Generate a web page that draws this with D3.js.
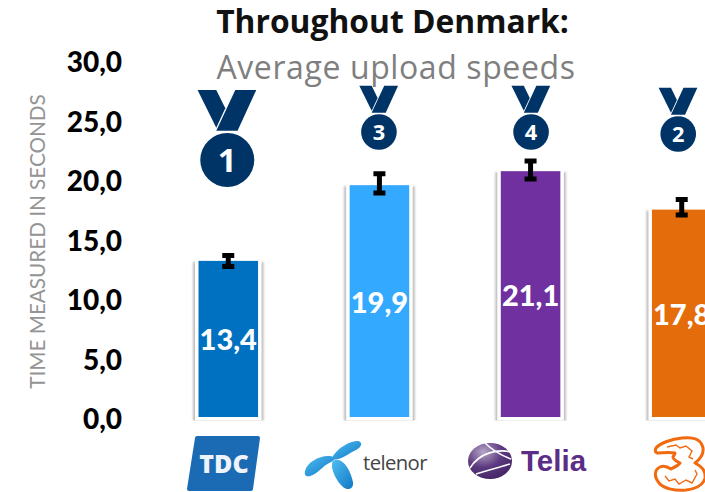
<!DOCTYPE html>
<html><head><meta charset="utf-8">
<script src="https://cdn.jsdelivr.net/npm/d3@7"></script>
<style>html,body{margin:0;padding:0;background:#fff;overflow:hidden}svg{display:block}</style>
</head><body><div id="c"></div>
<script>
const categories = ["TDC","Telenor","Telia","3"];
const values = [13.4,19.9,21.1,17.8];
const errLow = [12.8,19.1,20.3,17.2];
const errHigh = [14.0,21.0,22.1,18.8];
const ranks = [1,3,4,2];
const barColors = ["#0070C0","#33A9FF","#7030A0","#E46C0A"];
const yTicks = [0,5,10,15,20,25,30];
const titleText = "Throughout Denmark:";
const subtitleText = "Average upload speeds";
const yTitle = "TIME MEASURED IN SECONDS";

const W=705,H=492;
const svg=d3.select("#c").append("svg").attr("width",W).attr("height",H);
const defs=svg.append("defs");
const f=defs.append("filter").attr("id","blur").attr("x","-30%").attr("y","-30%").attr("width","160%").attr("height","160%");
f.append("feGaussianBlur").attr("stdDeviation",1.3);
defs.append("clipPath").attr("id","plotclip").append("rect").attr("x",0).attr("y",0).attr("width",W).attr("height",420.5);
const gr=defs.append("radialGradient").attr("id","telia").attr("cx","35%").attr("cy","25%").attr("r","85%");
gr.append("stop").attr("offset","0%").attr("stop-color","#b5a6c6");
gr.append("stop").attr("offset","50%").attr("stop-color","#5d3a80");
gr.append("stop").attr("offset","100%").attr("stop-color","#3f2160");
const gb=defs.append("linearGradient").attr("id","tel").attr("x1",0).attr("y1",0).attr("x2",1).attr("y2",1);
gb.append("stop").attr("offset","0%").attr("stop-color","#4fbdf0");
gb.append("stop").attr("offset","100%").attr("stop-color","#1178c8");

const x=d3.scaleBand().domain(categories).range([198.5,711.5]).paddingInner(0.606).paddingOuter(0);
const y=d3.scaleLinear().domain([0,30]).range([417,67.5]);
const yLabel=d3.scaleLinear().domain([0,30]).range([419.5,63]);
const comma=d3.formatLocale({decimal:",",thousands:".",grouping:[3],currency:["",""]}).format(".1f");

// title
svg.append("text").attr("x",392.5).attr("y",33).attr("text-anchor","middle")
  .attr("font-family","Open Sans").attr("font-weight",700).attr("font-size",31.8).attr("fill","#111").text(titleText);
svg.append("text").attr("x",396).attr("y",79).attr("text-anchor","middle")
  .attr("font-family","Open Sans").attr("font-size",32).attr("letter-spacing",0.6).attr("fill","#7f7f7f").text(subtitleText);

// y axis
const ax=svg.append("g").attr("transform","translate(122,0)")
  .call(d3.axisLeft(yLabel).tickValues(yTicks).tickFormat(comma).tickSize(0).tickPadding(0));
ax.select(".domain").remove();
ax.selectAll("text").attr("font-family","Lato").attr("font-weight",900).attr("font-size",28).attr("fill","#000");
svg.append("text").attr("transform","translate(45,241.5) rotate(-90)").attr("text-anchor","middle")
  .attr("font-family","Lato").attr("font-size",20.7).attr("fill","#949494").text(yTitle);

// bars
const plot=svg.append("g");
const halos=plot.append("g").attr("clip-path","url(#plotclip)");
halos.selectAll("rect.shadow").data(categories).join("rect").attr("class","shadow")
  .attr("x",d=>x(d)-5.5).attr("width",x.bandwidth()+11)
  .attr("y",(d,i)=>y(values[i])+1).attr("height",(d,i)=>y(0)-y(values[i])+12)
  .attr("fill","#bdbdbd").attr("filter","url(#blur)");
halos.selectAll("rect.halo").data(categories).join("rect").attr("class","halo")
  .attr("x",d=>x(d)-3.5).attr("width",x.bandwidth()+7)
  .attr("y",(d,i)=>y(values[i])-4).attr("height",(d,i)=>y(0)-y(values[i])+12)
  .attr("fill","#fff");
plot.append("g").selectAll("rect").data(categories).join("rect")
  .attr("x",d=>x(d)).attr("width",x.bandwidth())
  .attr("y",(d,i)=>y(values[i])).attr("height",(d,i)=>y(0)-y(values[i]))
  .attr("fill",(d,i)=>barColors[i]);
// error bars
const eb=plot.append("g").attr("stroke","#000").attr("fill","none");
categories.forEach((c,i)=>{
  const cx=x(c)+x.bandwidth()/2;
  const a=y(errHigh[i]), b=y(errLow[i]);
  eb.append("path").attr("stroke-width",5).attr("d",`M${cx},${a}V${b}`);
  eb.append("path").attr("stroke-width",5).attr("d",`M${cx-6},${a+1.5}H${cx+6}M${cx-6},${b-1.5}H${cx+6}`);
});
// value labels
plot.append("g").selectAll("text").data(categories).join("text")
  .attr("x",d=>x(d)+x.bandwidth()/2).attr("y",(d,i)=>(y(values[i])+y(0))/2+1)
  .attr("dy","0.36em").attr("text-anchor","middle")
  .attr("font-family","Lato").attr("font-weight",900).attr("font-size",29).attr("fill","#fff")
  .text((d,i)=>comma(values[i]));

// medals
const medalLayout=[{dx:-1,cy:160,s:1},{dx:-0.5,cy:132,s:.66},{dx:0.5,cy:132,s:.66},{dx:-3.5,cy:134,s:.66}];
const navy="#003366";
categories.forEach((c,i)=>{
  const m=medalLayout[i];
  const g=svg.append("g").attr("transform",`translate(${x(c)+x.bandwidth()/2+m.dx},${m.cy}) scale(${m.s})`);
  g.append("path").attr("fill",navy).attr("d","M-29.7,-70L-11,-70L-2,-51.7L-11,-32.3Z");
  g.append("path").attr("fill",navy).attr("d","M8,-70L29,-70L10.3,-29.3L-11,-29.3Z");
  g.append("circle").attr("r",27).attr("fill",navy);
  g.append("text").attr("text-anchor","middle").attr("dy","0.36em").attr("font-family","Open Sans").attr("font-weight",700)
   .attr("font-size",33).attr("fill","#fff").text(ranks[i]);
});

// logos
const tdc=svg.append("g");
tdc.append("path").attr("fill","#1a6bb4").attr("stroke","#1a6bb4").attr("stroke-width",4).attr("stroke-linejoin","round")
  .attr("d","M197,438L258,438L251,489L189,489Z");
tdc.append("text").attr("x",224).attr("y",473).attr("text-anchor","middle").attr("font-family","Open Sans").attr("font-weight",800)
  .attr("font-size",25).attr("fill","#eef4fa").text("TDC");

const tel=svg.append("g").attr("fill","url(#tel)");
tel.append("path").attr("d","M305,471C307,462 320,455 330,456C336,457 336,460 331,462C322,466 318,474 310,476C306,477 304,475 305,471Z");
tel.append("path").attr("d","M333,456C339,447 350,441 358,441C363,442 362,447 356,450C349,453 344,458 338,459C334,460 331,459 333,456Z");
tel.append("path").attr("d","M335,460C344,458 351,472 353,482C354,489 348,491 343,487C337,482 331,470 332,464C332,462 333,461 335,460Z");
svg.append("text").attr("x",363).attr("y",470).attr("font-family","Open Sans").attr("font-size",20.3).attr("letter-spacing",-0.6).attr("fill","#444").text("telenor");

const telia=svg.append("g");
telia.append("ellipse").attr("cx",490).attr("cy",461).attr("rx",22).attr("ry",18).attr("fill","url(#telia)");
telia.append("path").attr("fill","none").attr("stroke","#fff").attr("stroke-width",1.6)
  .attr("d","M470,468C480,452 498,449 511,452M476,474C490,470 504,466 510,464M485,443C492,450 503,456 511,459");
svg.append("text").attr("x",521).attr("y",471).attr("font-family","Liberation Sans").attr("font-weight",700).attr("font-size",29.5).attr("fill","#5c2d86").text("Telia");

const three="M656,448C660,443 672,439 682,438C692,437 701,438 703,448C704,455 699,460 695,463C701,466 706,471 705,478C703,486 694,489 686,490C676,491 664,489 659,483C654,477 654,470 660,467C664,465 668,467 671,469C675,467 679,465 680,463C676,461 673,459 673,457C674,455 675,454 675,453C670,452 662,453 657,453C655,452 655,450 656,448Z";
const t3=svg.append("g");
t3.append("path").attr("d",three).attr("fill","#fff").attr("stroke","#f26a10").attr("stroke-width",3).attr("stroke-linejoin","round");
t3.append("path").attr("fill","none").attr("stroke","#f26a10").attr("stroke-width",1.4)
  .attr("d","M667,447L676,445L680,448L686,446L692,451L689,457L693,459M665,476L669,481L675,479L679,484L686,480L692,483L697,474L695,470");
</script></body></html>
